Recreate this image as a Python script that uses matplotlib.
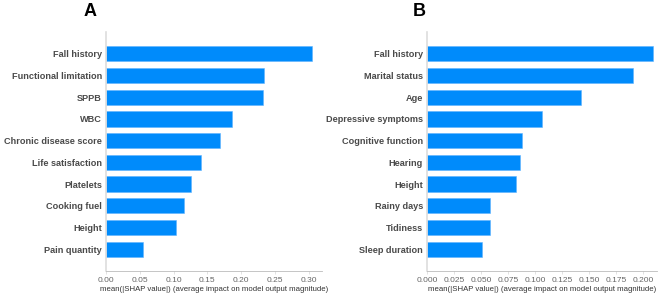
import matplotlib
matplotlib.use("Agg")
import matplotlib.pyplot as plt

# panel A
features_a = ["Fall history", "Functional limitation", "SPPB", "WBC", "Chronic disease score",
              "Life satisfaction", "Platelets", "Cooking fuel", "Height", "Pain quantity"]
shap_a = [0.305, 0.234, 0.232, 0.187, 0.169, 0.141, 0.126, 0.115, 0.104, 0.055]
ticks_a = [0.00, 0.05, 0.10, 0.15, 0.20, 0.25, 0.30]
ticklabels_a = ["0.00", "0.05", "0.10", "0.15", "0.20", "0.25", "0.30"]

# panel B
features_b = ["Fall history", "Marital status", "Age", "Depressive symptoms", "Cognitive function",
              "Hearing", "Height", "Rainy days", "Tidiness", "Sleep duration"]
shap_b = [0.209, 0.190, 0.142, 0.106, 0.088, 0.0857, 0.082, 0.058, 0.058, 0.051]
ticks_b = [0.000, 0.025, 0.050, 0.075, 0.100, 0.125, 0.150, 0.175, 0.200]
ticklabels_b = ["0.000", "0.025", "0.050", "0.075", "0.100", "0.125", "0.150", "0.175", "0.200"]

xlabel = "mean(|SHAP value|) (average impact on model output magnitude)"
blue = "#008bfb"

W, H = 669, 300
fig = plt.figure(figsize=(W / 100, H / 100), dpi=100)


def panel(rect, feats, vals, ticks, labels, xmax, letter, letter_xy):
    ax = fig.add_axes(rect)
    n = len(feats)
    y = list(range(n - 1, -1, -1))
    ax.barh(y, vals, height=0.7, color=blue, edgecolor="#5fb3ff", linewidth=0.4)
    ax.set_ylim(-1, n)
    ax.set_xlim(0, xmax)
    ax.set_yticks(y)
    ax.set_yticklabels(feats, fontsize=6.6, fontweight="bold", color="#4a4a4a",
                       family="Liberation Sans")
    ax.tick_params(axis="y", length=0, pad=3)
    ax.set_xticks(ticks)
    ax.set_xticklabels(labels, fontsize=6.0, color="#666666", family="Liberation Sans")
    ax.tick_params(axis="x", length=2, width=0.4, color="#cccccc", pad=2)
    for s in ("top", "right"):
        ax.spines[s].set_visible(False)
    ax.spines["left"].set_color("#dddddd")
    ax.spines["left"].set_linewidth(1.2)
    ax.spines["bottom"].set_color("#bbbbbb")
    ax.spines["bottom"].set_linewidth(0.6)
    ax.set_xlabel(xlabel, fontsize=5.6, color="#333333", family="Liberation Sans", labelpad=2)
    fig.text(letter_xy[0] / W, 1 - letter_xy[1] / H, letter, fontsize=13, fontweight="bold",
             family="Liberation Sans", ha="center", va="center")
    return ax


top, bottom = 32, 271
panel([106 / W, 1 - bottom / H, (322 - 106) / W, (bottom - top) / H],
      features_a, shap_a, ticks_a, ticklabels_a, 0.320, "A", (90, 12))
panel([427 / W, 1 - bottom / H, (657 - 427) / W, (bottom - top) / H],
      features_b, shap_b, ticks_b, ticklabels_b, 0.2125, "B", (419, 12))

fig.savefig("out.png", dpi=100)
